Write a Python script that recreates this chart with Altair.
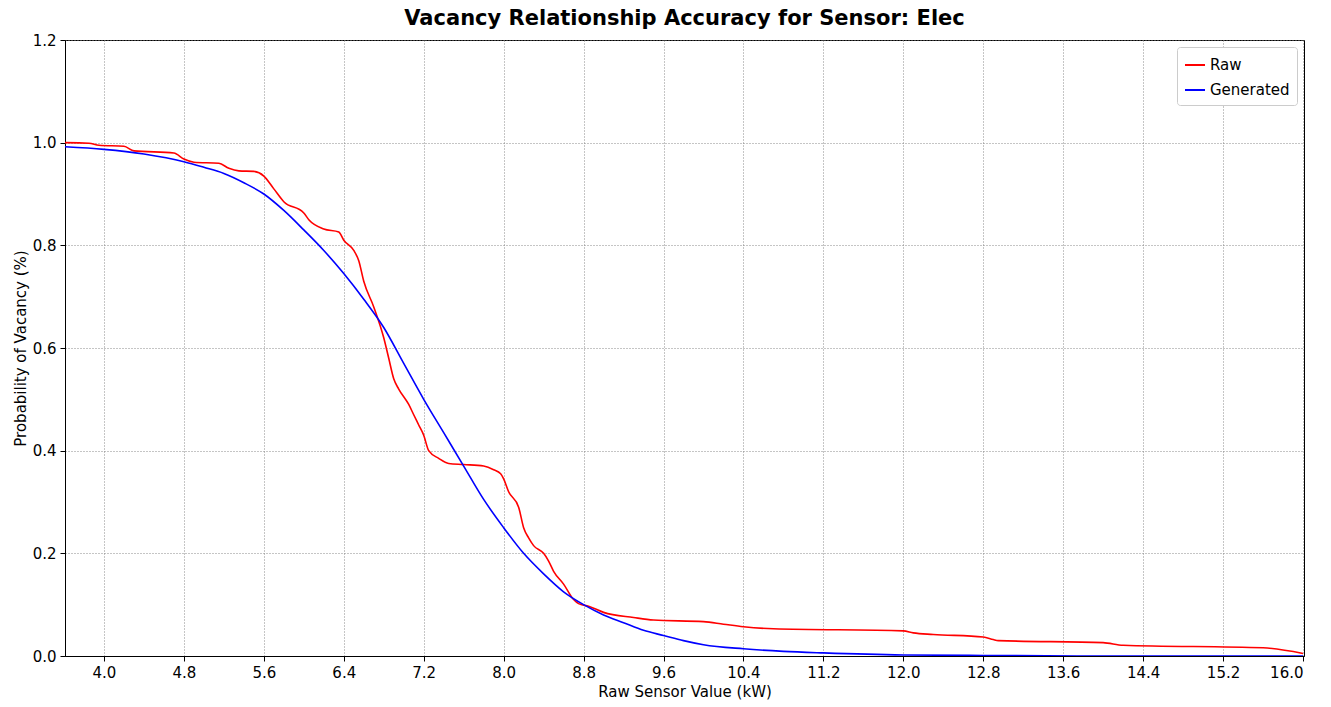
import altair as alt
import pandas as pd

raw_x = [3.61,3.85,3.95,4.2,4.3,4.7,4.8,4.9,5.15,5.25,5.35,5.5,5.6,5.7,5.8,6.0,6.05,6.2,6.35,6.4,6.5,6.55,6.6,6.7,6.8,6.85,6.9,6.95,7.05,7.1,7.15,7.2,7.25,7.35,7.45,7.6,7.8,7.9,7.97,8.0,8.05,8.15,8.2,8.25,8.3,8.4,8.45,8.5,8.6,8.7,8.75,8.85,9.0,9.3,9.5,10.0,10.2,10.4,10.7,12.0,12.1,12.3,12.8,12.9,12.95,14.0,14.2,15.6,16.0]
raw_y = [1.0,0.999,0.995,0.993,0.984,0.980,0.968,0.962,0.960,0.950,0.945,0.944,0.935,0.910,0.885,0.863,0.85,0.832,0.826,0.81,0.79,0.77,0.73,0.68,0.62,0.58,0.54,0.52,0.49,0.47,0.45,0.43,0.40,0.385,0.375,0.373,0.370,0.363,0.355,0.345,0.32,0.29,0.25,0.23,0.215,0.20,0.185,0.165,0.14,0.11,0.102,0.097,0.085,0.075,0.070,0.067,0.062,0.057,0.053,0.049,0.045,0.042,0.037,0.032,0.030,0.026,0.021,0.016,0.005]
gen_x = [3.61,4.0,4.4,4.8,5.0,5.2,5.4,5.6,5.8,6.0,6.2,6.4,6.6,6.8,7.0,7.2,7.4,7.6,7.8,8.0,8.2,8.4,8.6,8.8,9.0,9.2,9.4,9.6,9.8,10.0,10.4,10.8,11.2,12.0,12.8,14.0,16.0]
gen_y = [0.992,0.987,0.978,0.963,0.952,0.94,0.922,0.90,0.868,0.83,0.79,0.745,0.695,0.64,0.57,0.50,0.435,0.37,0.305,0.25,0.20,0.16,0.125,0.10,0.08,0.065,0.05,0.04,0.03,0.022,0.014,0.009,0.006,0.002,0.001,0.0,0.0]

df = pd.concat([
    pd.DataFrame({"x": raw_x, "y": raw_y, "s": "Raw", "o": range(len(raw_x))}),
    pd.DataFrame({"x": gen_x, "y": gen_y, "s": "Generated", "o": range(len(gen_x))}),
])

xticks = [round(4.0 + 0.8 * i, 1) for i in range(16)]
yticks = [0, 0.2, 0.4, 0.6, 0.8, 1.0, 1.2]

chart = alt.Chart(df).mark_line(strokeWidth=1.6, clip=True, interpolate="monotone").encode(
    x=alt.X("x:Q", title="Raw Sensor Value (kW)",
            scale=alt.Scale(domain=[3.61, 16.01], nice=False, zero=False),
            axis=alt.Axis(values=xticks, format=".1f")),
    y=alt.Y("y:Q", title="Probability of Vacancy (%)",
            scale=alt.Scale(domain=[0, 1.2], nice=False),
            axis=alt.Axis(values=yticks, format=".1f")),
    color=alt.Color("s:N", title=None,
                    scale=alt.Scale(domain=["Raw", "Generated"], range=["red", "blue"]),
                    legend=alt.Legend(orient="top-right", symbolType="stroke", offset=7,
                                      strokeColor="#ccc", fillColor="white",
                                      padding=7, labelFontSize=15, symbolStrokeWidth=2,
                                      cornerRadius=3, symbolSize=400, rowPadding=6)),
    order="o:Q",
).properties(
    width=1239, height=616,
    padding={"left": 5, "top": 0, "right": 5, "bottom": 5},
    title=alt.TitleParams("Vacancy Relationship Accuracy for Sensor: Elec", fontSize=21,
                          fontWeight="bold", offset=4),
).configure(font="DejaVu Sans").configure_axis(
    grid=True, gridColor="gray", gridDash=[1, 2], gridOpacity=0.9,
    domainColor="black", tickColor="black", labelColor="black", titleColor="black",
    labelFontSize=15, titleFontSize=15, titleFontWeight="normal", labelPadding=4, tickSize=5,
).configure_view(stroke="black", strokeWidth=1)

chart.save("out.html", embed_options={"renderer": "svg", "actions": False})
